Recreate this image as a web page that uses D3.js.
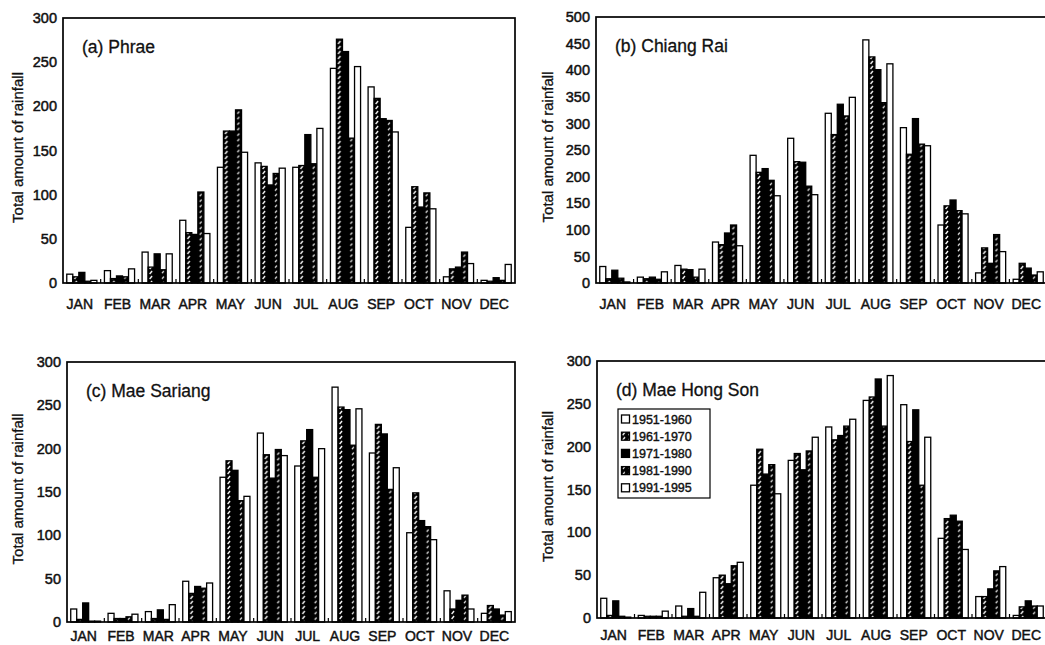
<!DOCTYPE html>
<html>
<head>
<meta charset="utf-8">
<script src="https://cdn.jsdelivr.net/npm/d3@7"></script>
<style>
  body { margin: 0; background: #fff; }
  svg { display: block; }
  text { font-family: "Liberation Sans", Arial, sans-serif; fill: #111; }
</style>
</head>
<body>
<svg width="1045" height="645"></svg>
<script>
let months = ["JAN", "FEB", "MAR", "APR", "MAY", "JUN", "JUL", "AUG", "SEP", "OCT", "NOV", "DEC"];
let periods = ["1951-1960", "1961-1970", "1971-1980", "1981-1990", "1991-1995"];

// one row per month, one value per period
let phrae = [
  [10, 7, 12, 2, 3], [14, 5, 8, 7, 16], [35, 18, 33, 15, 33], [71, 57, 55, 103, 56],
  [131, 172, 172, 196, 148], [136, 132, 111, 124, 130], [131, 133, 168, 135, 175],
  [243, 276, 262, 164, 245], [222, 209, 186, 184, 171], [63, 109, 86, 102, 84],
  [7, 16, 18, 35, 22], [3, 2, 6, 3, 21]
];
let chiangRai = [
  [31, 8, 24, 9, 2], [11, 8, 11, 7, 21], [33, 26, 25, 11, 26], [77, 72, 94, 109, 70],
  [240, 208, 215, 193, 164], [272, 228, 227, 182, 166], [319, 279, 336, 314, 349],
  [457, 425, 401, 339, 412], [292, 242, 309, 261, 258], [109, 145, 156, 136, 130],
  [19, 66, 37, 91, 59], [7, 37, 28, 15, 21]
];
let maeSariang = [
  [15, 3, 22, 1, 1], [10, 4, 4, 6, 9], [12, 4, 14, 3, 20], [47, 33, 41, 39, 45],
  [167, 186, 175, 140, 145], [218, 193, 166, 199, 192], [180, 209, 222, 167, 200],
  [271, 248, 245, 204, 246], [195, 228, 217, 153, 178], [103, 149, 117, 110, 95],
  [36, 15, 25, 31, 15], [10, 19, 15, 8, 12]
];
let maeHongSon = [
  [23, 3, 20, 2, 1], [3, 2, 2, 2, 8], [14, 2, 11, 2, 30], [47, 50, 40, 61, 65],
  [155, 197, 168, 179, 145], [184, 192, 173, 195, 211], [223, 208, 213, 224, 232],
  [254, 258, 279, 224, 283], [249, 206, 243, 155, 211], [93, 116, 120, 113, 80],
  [25, 25, 34, 55, 60], [3, 13, 20, 14, 14]
];

let ticks300 = [0, 50, 100, 150, 200, 250, 300];
let ticks500 = [0, 50, 100, 150, 200, 250, 300, 350, 400, 450, 500];

let fills = ["#fff", "url(#hatchA)", "#000", "url(#hatchB)", "#fff"];

let svg = d3.select("svg");

let makePatterns = () => {
  let defs = svg.append("defs");
  let a = defs.append("pattern")
    .attr("id", "hatchA")
    .attr("patternUnits", "userSpaceOnUse")
    .attr("width", 6).attr("height", 5);
  a.append("rect").attr("width", 6).attr("height", 5).attr("fill", "#000");
  a.append("path").attr("d", "M1.6,4 L4,1").attr("stroke", "#fff").attr("stroke-width", 1.3);

  let b = defs.append("pattern")
    .attr("id", "hatchB")
    .attr("patternUnits", "userSpaceOnUse")
    .attr("width", 6).attr("height", 5.5);
  b.append("rect").attr("width", 6).attr("height", 5.5).attr("fill", "#000");
  b.append("path").attr("d", "M2,3.8 L3.8,1.4").attr("stroke", "#fff").attr("stroke-width", 1.2);
};

let heavy = (sel, w) => sel.attr("fill", "#111").attr("stroke", "#111").attr("stroke-width", w);

let drawPanel = (p) => {
  let g = svg.append("g");

  let x = d3.scaleBand()
    .domain(months)
    .range([p.x0, p.x1])
    .paddingInner(0.2)
    .paddingOuter(0.1);

  let xSub = d3.scaleBand()
    .domain(periods)
    .range([0, x.bandwidth()]);

  let y = d3.scaleLinear()
    .domain([0, p.max])
    .range([p.bottom, p.top]);

  // bars
  let groups = g.selectAll(".month")
    .data(p.data)
    .enter()
    .append("g")
    .attr("transform", (d, i) => `translate(${x(months[i])},0)`);

  groups.selectAll("rect")
    .data(d => d)
    .enter()
    .append("rect")
    .attr("x", (d, i) => xSub(periods[i]))
    .attr("width", xSub.bandwidth())
    .attr("y", d => y(d))
    .attr("height", d => p.bottom - y(d))
    .attr("fill", (d, i) => fills[i])
    .attr("stroke", "#000")
    .attr("stroke-width", 1.3);

  // little inward ticks between months
  g.selectAll(".sep")
    .data(months.slice(1))
    .enter()
    .append("line")
    .attr("x1", m => x(m) - x.step() * x.paddingInner() / 2)
    .attr("x2", m => x(m) - x.step() * x.paddingInner() / 2)
    .attr("y1", p.bottom)
    .attr("y2", p.bottom - 4)
    .attr("stroke", "#000")
    .attr("stroke-width", 1.2);

  // frame
  g.append("rect")
    .attr("x", p.x0)
    .attr("y", p.top)
    .attr("width", p.x1 - p.x0)
    .attr("height", p.bottom - p.top)
    .attr("fill", "none")
    .attr("stroke", "#000")
    .attr("stroke-width", 1.7);

  let yAxis = g.append("g")
    .attr("transform", `translate(${p.x0},0)`)
    .call(d3.axisLeft(y).tickValues(p.ticks).tickSize(0).tickPadding(6));
  yAxis.select(".domain").remove();
  yAxis.selectAll("text")
    .attr("font-size", 14.5)
    .style("font-family", "'Liberation Sans', Arial, sans-serif")
    .call(heavy, 0.5);

  let xAxis = g.append("g")
    .attr("transform", `translate(0,${p.bottom})`)
    .call(d3.axisBottom(x).tickSize(0).tickPadding(p.labelPad));
  xAxis.select(".domain").remove();
  xAxis.selectAll("text")
    .attr("font-size", 14)
    .attr("dx", -2)
    .style("font-family", "'Liberation Sans', Arial, sans-serif")
    .call(heavy, 0.45);

  g.append("text")
    .attr("transform", `translate(${p.labelX},${(p.top + p.bottom) / 2 - 3}) rotate(-90)`)
    .attr("text-anchor", "middle")
    .attr("font-size", 15)
    .call(heavy, 0.3)
    .text("Total amount of rainfall");

  g.append("text")
    .attr("x", p.x0 + 19)
    .attr("y", p.top + 35)
    .attr("font-size", 17.5)
    .call(heavy, 0.3)
    .text(p.title);

  if (p.legend) drawLegend(g, p.x0 + 21, p.top + 48);
};

let drawLegend = (g, lx, ly) => {
  g.append("rect")
    .attr("x", lx)
    .attr("y", ly)
    .attr("width", 92)
    .attr("height", 89)
    .attr("fill", "#fff")
    .attr("stroke", "#000")
    .attr("stroke-width", 1.2);

  let rows = g.selectAll(".leg")
    .data(periods)
    .enter()
    .append("g")
    .attr("transform", (d, i) => `translate(${lx + 3},${ly + 10 + i * 17.2})`);

  rows.append("rect")
    .attr("x", 0.5).attr("y", -4)
    .attr("width", 8).attr("height", 8)
    .attr("fill", (d, i) => fills[i])
    .attr("stroke", "#000")
    .attr("stroke-width", 1.3);

  rows.append("text")
    .attr("x", 11)
    .attr("y", 4.5)
    .attr("font-size", 12.5)
    .call(heavy, 0.4)
    .text(d => d);
};

makePatterns();
drawPanel({ x0: 63, x1: 515, top: 18, bottom: 283, max: 300, ticks: ticks300, labelX: 23, labelPad: 16, title: "(a) Phrae", data: phrae });
drawPanel({ x0: 596, x1: 1047, top: 17, bottom: 283, max: 500, ticks: ticks500, labelX: 553, labelPad: 16, title: "(b) Chiang Rai", data: chiangRai });
drawPanel({ x0: 67, x1: 515, top: 362, bottom: 622, max: 300, ticks: ticks300, labelX: 23, labelPad: 9, title: "(c) Mae Sariang", data: maeSariang });
drawPanel({ x0: 597, x1: 1047, top: 361, bottom: 618, max: 300, ticks: ticks300, labelX: 553, labelPad: 12, title: "(d) Mae Hong Son", data: maeHongSon, legend: true });
</script>
</body>
</html>
